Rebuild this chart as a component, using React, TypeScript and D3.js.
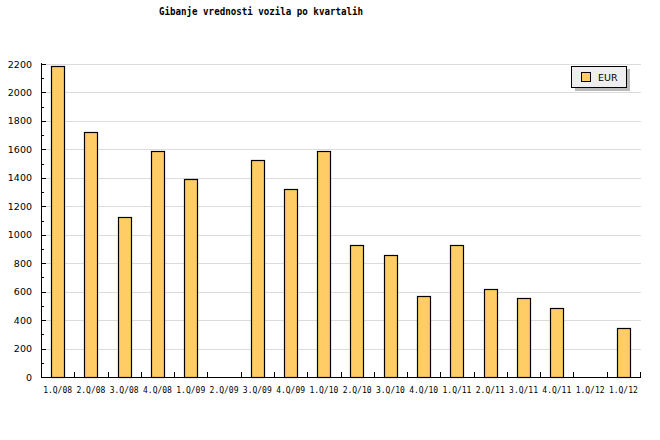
import React from "react";
import * as d3 from "d3";

const categories = ["1.Q/08","2.Q/08","3.Q/08","4.Q/08","1.Q/09","2.Q/09","3.Q/09","4.Q/09","1.Q/10","2.Q/10","3.Q/10","4.Q/10","1.Q/11","2.Q/11","3.Q/11","4.Q/11","1.Q/12","1.Q/12 "];
const values = [2185, 1720, 1123, 1585, 1390, 0, 1523, 1320, 1585, 926, 855, 567, 926, 617, 553, 483, 0, 342];
const yTicks = [0, 200, 400, 600, 800, 1000, 1200, 1400, 1600, 1800, 2000, 2200];
const minorTicks = d3.range(100, 2200, 200);
const title = "Gibanje vrednosti vozila po kvartalih";
const seriesName = "EUR";

export default function App() {
  const W = 660, H = 440;
  const left = 41, right = 640, top = 64, bottom = 377;
  const x = d3.scaleBand<string>().domain(categories).range([left, right]).paddingInner(0.6).paddingOuter(0.3);
  const xb = d3.scaleBand<string>().domain(categories).range([left, right]).padding(0);
  const y = d3.scaleLinear().domain([0, 2200]).range([bottom, top]);
  const mono = "'DejaVu Sans Mono', monospace";
  return (
    <svg width={W} height={H} style={{ position: "absolute", left: 0, top: 0, background: "#fff" }}>
      <text x={159} y={15} textLength={204} lengthAdjust="spacingAndGlyphs" fontFamily={mono} fontWeight="bold" fontSize={10.5} fill="#000">{title}</text>
      {yTicks.filter(t => t > 0).map(t => (
        <line key={"g" + t} x1={left} x2={right + 1} y1={Math.round(y(t)) + 0.5} y2={Math.round(y(t)) + 0.5} stroke="#dcdcdc" strokeWidth={1} />
      ))}
      {categories.map((c, i) => values[i] > 0 ? (
        <rect key={"b" + i} x={Math.round(x(c)!) + 0.5} y={Math.round(y(values[i])) + 0.5} width={Math.round(x.bandwidth())} height={Math.round(bottom - y(values[i]))} fill="#ffcc66" stroke="#000" strokeWidth={1.2} />
      ) : null)}
      <line x1={left + 0.5} x2={left + 0.5} y1={top - 1} y2={bottom + 1} stroke="#000" />
      {yTicks.map(t => (
        <g key={"y" + t}>
          <line x1={left} x2={left + 5} y1={Math.round(y(t)) + 0.5} y2={Math.round(y(t)) + 0.5} stroke="#000" />
          <text x={32} y={y(t) + 3.5} textAnchor="end" fontFamily="'DejaVu Sans', sans-serif" fontSize={9.5} fill="#000">{t}</text>
        </g>
      ))}
      {minorTicks.map(t => (
        <line key={"m" + t} x1={left} x2={left + 3} y1={Math.round(y(t)) + 0.5} y2={Math.round(y(t)) + 0.5} stroke="#000" />
      ))}
      <line x1={left} x2={right + 1} y1={bottom + 0.5} y2={bottom + 0.5} stroke="#000" />
      {categories.map((c, i) => (
        <g key={"x" + i}>
          <line x1={Math.round(xb(c)! + xb.bandwidth()) + 0.5} x2={Math.round(xb(c)! + xb.bandwidth()) + 0.5} y1={bottom - 5} y2={bottom} stroke="#000" />
          <text x={xb(c)! + xb.bandwidth() / 2} y={393} textAnchor="middle" fontFamily={mono} fontSize={8} fill="#000">{c.trim()}</text>
        </g>
      ))}
      <rect x={575} y={69} width={55} height={22} fill="#bbbbbb" />
      <rect x={571.5} y={66.5} width={55} height={21} fill="#eeeeee" stroke="#000" />
      <rect x={581.5} y={72.5} width={9} height={9} fill="#ffcc66" stroke="#000" />
      <text x={598} y={80.5} fontFamily="'DejaVu Sans', sans-serif" fontSize={9.5} fill="#000">{seriesName}</text>
    </svg>
  );
}
